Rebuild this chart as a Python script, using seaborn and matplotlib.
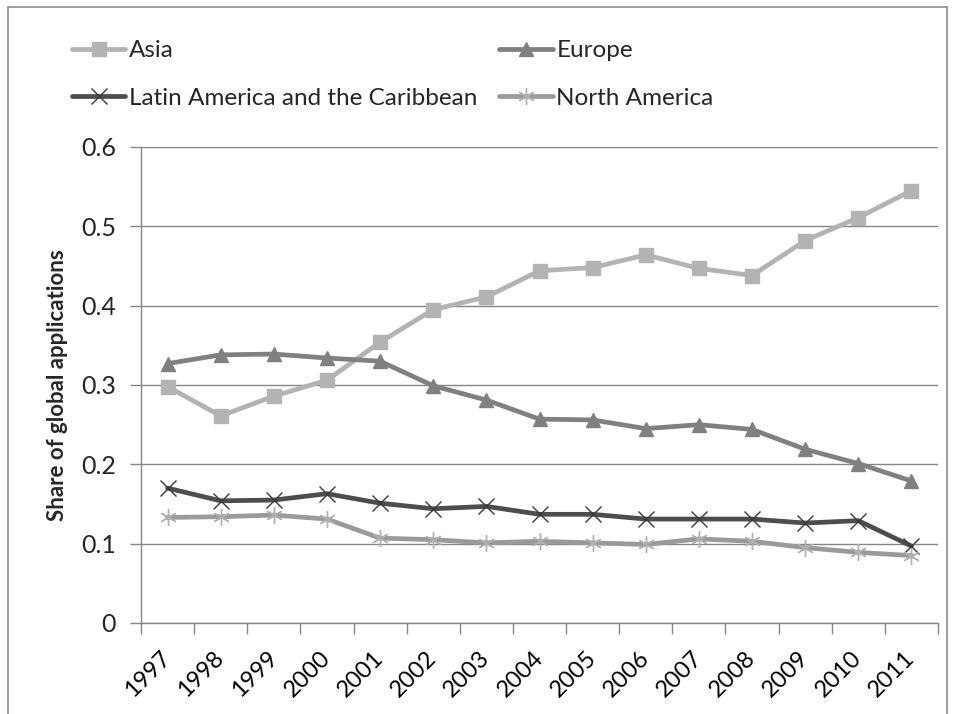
import matplotlib
matplotlib.use("Agg")
import matplotlib.pyplot as plt
from matplotlib.lines import Line2D
from matplotlib.ticker import FixedLocator, NullFormatter
import numpy as np
import pandas as pd
import seaborn as sns

years = [1997, 1998, 1999, 2000, 2001, 2002, 2003, 2004,
         2005, 2006, 2007, 2008, 2009, 2010, 2011]

asia = [0.298, 0.261, 0.286, 0.306, 0.354, 0.395, 0.411, 0.444,
        0.448, 0.464, 0.447, 0.438, 0.482, 0.511, 0.545]
europe = [0.327, 0.338, 0.339, 0.334, 0.330, 0.299, 0.281, 0.257,
          0.256, 0.245, 0.250, 0.244, 0.219, 0.201, 0.179]
latin_america = [0.170, 0.154, 0.155, 0.163, 0.151, 0.144, 0.147, 0.137,
                 0.137, 0.131, 0.131, 0.131, 0.126, 0.129, 0.097]
north_america = [0.133, 0.134, 0.136, 0.131, 0.107, 0.105, 0.101, 0.103,
                 0.101, 0.099, 0.106, 0.103, 0.095, 0.089, 0.085]

region_names = ["Asia", "Europe", "Latin America and the Caribbean", "North America"]
region_values = [asia, europe, latin_america, north_america]

y_ticks = [0, 0.1, 0.2, 0.3, 0.4, 0.5, 0.6]
y_label = "Share of global applications"

df = pd.DataFrame({
    "year": np.tile(years, len(region_names)),
    "region": np.repeat(region_names, len(years)),
    "share": np.concatenate(region_values),
})

sns.set_theme(style="white")
plt.rcParams["font.family"] = ["Lato", "DejaVu Sans"]

styles = {
    "Asia": dict(color="#b3b3b3", marker="s", ms=10, mfc="#b3b3b3", mec="#b3b3b3", mew=1),
    "Europe": dict(color="#808080", marker="^", ms=10, mfc="#808080", mec="#808080", mew=1),
    "Latin America and the Caribbean": dict(color="#4d4d4d", marker="x", ms=11,
                                            mfc="none", mec="#3a3a3a", mew=1.0),
    "North America": dict(color="#9a9a9a", marker=(6, 2, 0), ms=12,
                          mfc="none", mec="#b0b0b0", mew=1.0),
}

fig = plt.figure(figsize=(9.58, 7.14), dpi=100)
ax = fig.add_axes([141 / 958, 1 - 623 / 714, (938 - 141) / 958, (623 - 147) / 714])

for name in region_names:
    st = styles[name]
    sub = df[df["region"] == name]
    sns.lineplot(data=sub, x="year", y="share", ax=ax, color=st["color"],
                 linewidth=3.4, marker=st["marker"], markersize=st["ms"],
                 markerfacecolor=st["mfc"], markeredgecolor=st["mec"],
                 markeredgewidth=st["mew"], legend=False, zorder=3)

ax.set_xlim(years[0] - 0.5, years[-1] + 0.5)
ax.set_ylim(0, 0.6)
ax.set_yticks(y_ticks)
ax.set_yticklabels([f"{t:g}" for t in y_ticks], fontsize=18)
ax.set_xticks(years)
ax.set_xticklabels([str(y) for y in years], rotation=45, ha="right",
                   rotation_mode="anchor", va="center", fontsize=17)
ax.xaxis.set_minor_locator(FixedLocator(np.arange(years[0] - 0.5, years[-1] + 1, 1.0)))
ax.xaxis.set_minor_formatter(NullFormatter())
ax.tick_params(axis="x", which="major", length=0, pad=23, colors="black")
ax.tick_params(axis="x", which="minor", length=8, width=1, color="#868686", bottom=True)
ax.tick_params(axis="y", which="major", length=8, width=1, color="#868686", pad=10, left=True)

ax.set_xlabel("")
ax.set_ylabel(y_label, fontsize=16, fontweight="bold", labelpad=9)
ax.yaxis.grid(True, color="#868686", linewidth=1)
ax.xaxis.grid(False)
for side in ["top", "right"]:
    ax.spines[side].set_visible(False)
for side in ["left", "bottom"]:
    ax.spines[side].set_color("#868686")
    ax.spines[side].set_linewidth(1)

handles = []
for name in region_names:
    st = styles[name]
    handles.append(Line2D([], [], color=st["color"], linewidth=3.4, marker=st["marker"],
                          markersize=st["ms"], markerfacecolor=st["mfc"],
                          markeredgecolor=st["mec"], markeredgewidth=st["mew"]))
order = [0, 2, 1, 3]
fig.legend([handles[i] for i in order], [region_names[i] for i in order],
           ncol=2, frameon=False, fontsize=17.5, loc="upper left",
           bbox_to_anchor=(72 / 958, 1 - 40 / 714), handlelength=2.2,
           handletextpad=0.15, columnspacing=0.9, labelspacing=1.1,
           borderaxespad=0, borderpad=0)

# outer chart border
border_kw = dict(color="#8c8c8c", linewidth=1.2, transform=fig.transFigure)
fig.add_artist(Line2D([8 / 958, 947 / 958], [1 - 7 / 714, 1 - 7 / 714], **border_kw))
fig.add_artist(Line2D([8 / 958, 8 / 958], [0, 1 - 7 / 714], **border_kw))
fig.add_artist(Line2D([947 / 958, 947 / 958], [0, 1 - 7 / 714], **border_kw))

fig.savefig("out.png", dpi=100, facecolor="white")
